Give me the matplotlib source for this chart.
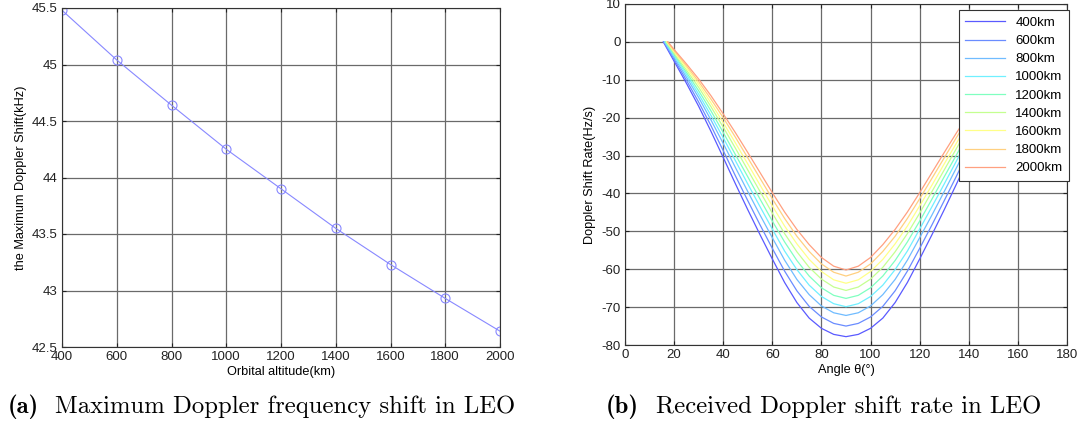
import numpy as np
import matplotlib
matplotlib.use("Agg")
import matplotlib.pyplot as plt
from matplotlib.ticker import FuncFormatter

plt.rcParams['font.family'] = ['Liberation Sans', 'DejaVu Sans']
plt.rcParams['axes.unicode_minus'] = False

# (a) max Doppler shift vs orbital altitude
altitude_km = [400, 600, 800, 1000, 1200, 1400, 1600, 1800, 2000]
max_shift_khz = [45.48, 45.04, 44.64, 44.25, 43.90, 43.55, 43.23, 42.93, 42.64]

# (b) Doppler shift rate vs angle, one curve per altitude
orbit_labels = ['400km', '600km', '800km', '1000km', '1200km',
                '1400km', '1600km', '1800km', '2000km']
start_angle = [15.6, 15.8, 16.0, 16.3, 16.5, 16.8, 17.0, 17.3, 17.5]
grid_angle = [20, 25, 30, 35, 40, 45, 50, 55, 60, 65, 70, 75, 80, 85, 90,
              95, 100, 105, 110, 115, 120, 125, 130, 135, 140, 145, 150, 155, 160]
rate_400 = [-5.1, -10.9, -17.0, -23.6, -30.5, -37.5, -44.3, -50.9, -57.3, -63.5, -68.8, -72.9, -75.6, -77.2, -77.8,
            -77.2, -75.6, -72.9, -68.8, -63.5, -57.3, -50.9, -44.3, -37.5, -30.5, -23.6, -17.0, -10.9, -5.1]
rate_600 = [-4.6, -10.1, -15.9, -22.1, -28.7, -35.4, -41.9, -48.3, -54.5, -60.5, -65.7, -69.8, -72.6, -74.3, -75.0,
            -74.3, -72.6, -69.8, -65.7, -60.5, -54.5, -48.3, -41.9, -35.4, -28.7, -22.1, -15.9, -10.1, -4.6]
rate_800 = [-4.1, -9.3, -14.7, -20.6, -26.8, -33.2, -39.5, -45.7, -51.7, -57.6, -62.7, -66.7, -69.7, -71.5, -72.2,
            -71.5, -69.7, -66.7, -62.7, -57.6, -51.7, -45.7, -39.5, -33.2, -26.8, -20.6, -14.7, -9.3, -4.1]
rate_1000 = [-3.7, -8.6, -13.8, -19.4, -25.3, -31.4, -37.5, -43.5, -49.4, -55.2, -60.1, -64.2, -67.2, -69.1, -69.9,
             -69.1, -67.2, -64.2, -60.1, -55.2, -49.4, -43.5, -37.5, -31.4, -25.3, -19.4, -13.8, -8.6, -3.7]
rate_1200 = [-3.3, -8.0, -12.9, -18.2, -23.9, -29.8, -35.6, -41.5, -47.3, -52.8, -57.7, -61.8, -64.9, -66.9, -67.7,
             -66.9, -64.9, -61.8, -57.7, -52.8, -47.3, -41.5, -35.6, -29.8, -23.9, -18.2, -12.9, -8.0, -3.3]
rate_1400 = [-3.0, -7.4, -12.0, -17.1, -22.5, -28.1, -33.8, -39.5, -45.2, -50.6, -55.4, -59.5, -62.6, -64.7, -65.6,
             -64.7, -62.6, -59.5, -55.4, -50.6, -45.2, -39.5, -33.8, -28.1, -22.5, -17.1, -12.0, -7.4, -3.0]
rate_1600 = [-2.6, -6.8, -11.2, -16.1, -21.3, -26.7, -32.2, -37.8, -43.3, -48.6, -53.3, -57.4, -60.6, -62.8, -63.7,
             -62.8, -60.6, -57.4, -53.3, -48.6, -43.3, -37.8, -32.2, -26.7, -21.3, -16.1, -11.2, -6.8, -2.6]
rate_1800 = [-2.3, -6.3, -10.5, -15.1, -20.0, -25.2, -30.6, -36.0, -41.4, -46.6, -51.3, -55.3, -58.6, -60.8, -61.8,
             -60.8, -58.6, -55.3, -51.3, -46.6, -41.4, -36.0, -30.6, -25.2, -20.0, -15.1, -10.5, -6.3, -2.3]
rate_2000 = [-2.0, -5.8, -9.8, -14.2, -19.0, -24.0, -29.2, -34.5, -39.8, -44.9, -49.5, -53.5, -56.9, -59.2, -60.2,
             -59.2, -56.9, -53.5, -49.5, -44.9, -39.8, -34.5, -29.2, -24.0, -19.0, -14.2, -9.8, -5.8, -2.0]
all_rates = [rate_400, rate_600, rate_800, rate_1000, rate_1200,
             rate_1400, rate_1600, rate_1800, rate_2000]
curve_colors = ['#5a5aff', '#6a8cff', '#70bcff', '#70f0ff', '#80ffc0',
                '#c4ff90', '#ffff88', '#ffd080', '#ffa080']

fig = plt.figure(figsize=(10.91, 4.25), dpi=100)
ax1 = fig.add_axes([62 / 1091, 1 - 347 / 425, 438 / 1091, 339 / 425])
ax2 = fig.add_axes([625 / 1091, 1 - 345 / 425, 442 / 1091, 341 / 425])

grid_kw = dict(color='#6a6a6a', linewidth=0.9, linestyle='-')
fmt = FuncFormatter(lambda v, p: '%g' % v)

for ax in (ax1, ax2):
    ax.grid(True, **grid_kw)
    ax.set_axisbelow(True)
    ax.tick_params(direction='in', length=3, width=0.8, top=True, right=True,
                   labelsize=9.5, colors='#222222', pad=3)
    for s in ax.spines.values():
        s.set_linewidth(0.8)
        s.set_color('#333333')

ax1.plot(altitude_km, max_shift_khz, color='#8888ff', linewidth=0.8,
         marker='o', markersize=6.5, markerfacecolor='none',
         markeredgecolor='#8888ff', markeredgewidth=0.8)
ax1.set_xlim(400, 2000)
ax1.set_ylim(42.5, 45.5)
ax1.set_xticks(range(400, 2001, 200))
ax1.set_yticks(np.arange(42.5, 45.51, 0.5))
ax1.yaxis.set_major_formatter(fmt)
ax1.set_xlabel('Orbital altitude(km)', fontsize=9.2, labelpad=2)
ax1.set_ylabel('the Maximum Doppler Shift(kHz)', fontsize=9.2, labelpad=4)

for label, s, rates, c in zip(orbit_labels, start_angle, all_rates, curve_colors):
    angles = [s] + grid_angle + [180 - s]
    values = [0] + rates + [0]
    ax2.plot(angles, values, color=c, linewidth=0.9, label=label)
ax2.set_xlim(0, 180)
ax2.set_ylim(-80, 10)
ax2.set_xticks(range(0, 181, 20))
ax2.set_yticks(range(-80, 11, 10))
ax2.set_xlabel('Angle \u03b8(\u00b0)', fontsize=9.2, labelpad=2)
ax2.set_ylabel('Doppler Shift Rate(Hz/s)', fontsize=9.2, labelpad=4)
leg = ax2.legend(loc='upper right', bbox_to_anchor=(1.005, 0.982), fontsize=9.5,
                 fancybox=False, framealpha=1, edgecolor='#333333',
                 handlelength=3.0, labelspacing=0.45, borderaxespad=0,
                 borderpad=0.5)
leg.get_frame().set_linewidth(0.8)

# sub-figure captions
cap_y = 1 - 413 / 425
cap_size = 17.8
fig.text(8 / 1091, cap_y, '(a)', family='cmb10', fontsize=cap_size, va='baseline')
fig.text(55 / 1091, cap_y, 'Maximum Doppler frequency shift in LEO',
         family='cmr10', fontsize=cap_size, va='baseline')
fig.text(606 / 1091, cap_y, '(b)', family='cmb10', fontsize=cap_size, va='baseline')
fig.text(656 / 1091, cap_y, 'Received Doppler shift rate in LEO',
         family='cmr10', fontsize=cap_size, va='baseline')

fig.savefig('out.png', dpi=100)
